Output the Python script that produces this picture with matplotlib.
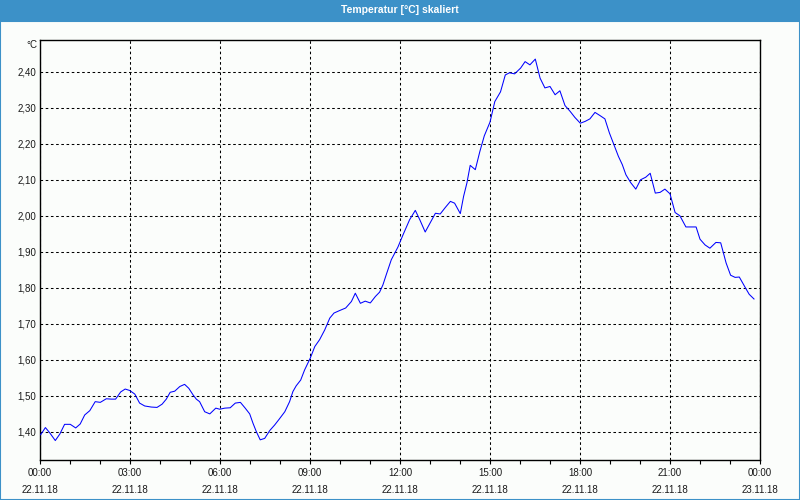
import numpy as np
import matplotlib
matplotlib.use("Agg")
import matplotlib.pyplot as plt
from matplotlib.patches import Rectangle
from matplotlib.ticker import MultipleLocator, FixedLocator

# Messwerte (Stunden ab 22.11.18 00:00, Temperatur in °C)
hours = [0.02, 0.18, 0.32, 0.51, 0.66, 0.82, 1.01, 1.19, 1.34, 1.49, 1.66, 1.84,
         2.01, 2.21, 2.38, 2.52, 2.69, 2.84, 2.99, 3.16, 3.32, 3.49, 3.71, 3.90,
         4.07, 4.21, 4.34, 4.49, 4.66, 4.82, 4.96, 5.10, 5.21, 5.32, 5.49, 5.66,
         5.86, 5.99, 6.16, 6.34, 6.51, 6.68, 6.84, 6.99, 7.10, 7.21, 7.34, 7.49,
         7.66, 7.82, 7.97, 8.16, 8.32, 8.43, 8.54, 8.69, 8.82, 9.01, 9.16, 9.32,
         9.49, 9.66, 9.80, 9.99, 10.19, 10.38, 10.51, 10.68, 10.84, 11.01, 11.18,
         11.32, 11.43, 11.54, 11.71, 11.93, 12.10, 12.32, 12.51, 12.66, 12.84,
         13.01, 13.18, 13.34, 13.51, 13.68, 13.82, 14.01, 14.12, 14.23, 14.34,
         14.51, 14.66, 14.81, 15.00, 15.16, 15.35, 15.51, 15.65, 15.82, 16.02,
         16.17, 16.33, 16.51, 16.67, 16.83, 17.00, 17.17, 17.33, 17.50, 17.67,
         17.83, 18.01, 18.17, 18.33, 18.50, 18.67, 18.83, 18.98, 19.11, 19.28,
         19.41, 19.53, 19.69, 19.86, 20.02, 20.19, 20.34, 20.51, 20.67, 20.83,
         21.00, 21.17, 21.33, 21.53, 21.70, 21.87, 22.00, 22.17, 22.33, 22.53,
         22.69, 22.87, 23.02, 23.17, 23.31, 23.50, 23.64, 23.80]
temps = [1.392, 1.412, 1.398, 1.376, 1.394, 1.421, 1.421, 1.411, 1.422, 1.447, 1.459, 1.484,
         1.482, 1.492, 1.491, 1.491, 1.511, 1.519, 1.515, 1.505, 1.480, 1.472, 1.469, 1.468,
         1.477, 1.491, 1.510, 1.513, 1.526, 1.532, 1.521, 1.503, 1.491, 1.484, 1.456, 1.450,
         1.466, 1.463, 1.466, 1.467, 1.480, 1.482, 1.466, 1.450, 1.424, 1.401, 1.378, 1.382,
         1.404, 1.419, 1.435, 1.456, 1.484, 1.512, 1.528, 1.544, 1.572, 1.605, 1.637, 1.656,
         1.683, 1.716, 1.730, 1.737, 1.744, 1.762, 1.785, 1.757, 1.763, 1.758, 1.776,
         1.788, 1.808, 1.836, 1.878, 1.913, 1.947, 1.989, 2.015, 1.989, 1.955,
         1.981, 2.007, 2.005, 2.023, 2.040, 2.035, 2.006, 2.054, 2.091, 2.140,
         2.128, 2.178, 2.222, 2.260, 2.317, 2.344, 2.391, 2.397, 2.394, 2.410,
         2.428, 2.419, 2.435, 2.382, 2.355, 2.359, 2.336, 2.347, 2.306, 2.290,
         2.273, 2.257, 2.262, 2.269, 2.287, 2.278, 2.269, 2.230, 2.202, 2.165,
         2.142, 2.114, 2.092, 2.074, 2.100, 2.107, 2.118, 2.063, 2.065, 2.074,
         2.061, 2.009, 2.000, 1.969, 1.969, 1.969, 1.935, 1.919, 1.910, 1.926,
         1.925, 1.869, 1.835, 1.829, 1.830, 1.802, 1.782, 1.769]

tick_hours = [0, 3, 6, 9, 12, 15, 18, 21, 24]
tick_labels = ["00:00\n22.11.18", "03:00\n22.11.18", "06:00\n22.11.18",
               "09:00\n22.11.18", "12:00\n22.11.18", "15:00\n22.11.18",
               "18:00\n22.11.18", "21:00\n22.11.18", "00:00\n23.11.18"]
y_ticks = [1.40, 1.50, 1.60, 1.70, 1.80, 1.90, 2.00, 2.10, 2.20, 2.30, 2.40]

bg = "#fbfdfb"
frame_blue = "#3c91c8"

plt.rcParams['font.family'] = ['Liberation Sans', 'DejaVu Sans']

fig = plt.figure(figsize=(8, 5), dpi=100, facecolor=bg)

# Titelleiste und Fensterrahmen
fig.patches.append(Rectangle((0, 1 - 21 / 500), 1, 21 / 500, transform=fig.transFigure,
                             facecolor=frame_blue, edgecolor="none", zorder=0))
fig.patches.append(Rectangle((0, 0), 1, 1 - 21 / 500, transform=fig.transFigure,
                             facecolor="none", edgecolor=frame_blue, linewidth=1.5, zorder=0))
fig.text(0.5, 1 - 10 / 500, "Temperatur [°C] skaliert", color="white", fontsize=7.5,
         fontweight="bold", ha="center", va="center")

ax = fig.add_axes([40 / 800, 40 / 500, 720 / 800, 420 / 500])
ax.set_facecolor(bg)
ax.plot(hours, temps, color="#0000ff", linewidth=0.75, zorder=3)

ax.set_xlim(0, 24)
ax.set_ylim(1.322, 2.488)

ax.xaxis.set_major_locator(FixedLocator(tick_hours))
ax.xaxis.set_minor_locator(MultipleLocator(1))
ax.set_xticks(tick_hours)
ax.set_xticklabels(tick_labels, fontsize=7, linespacing=1.8, color="#1a1a1a")
ax.set_yticks(y_ticks)
ax.set_yticklabels([f"{v:.2f}".replace(".", ",") for v in y_ticks], fontsize=7,
                   color="#1a1a1a")

ax.tick_params(axis="x", which="both", direction="out", length=3, width=0.8, pad=3)
ax.tick_params(axis="y", length=0, pad=3)

ax.grid(True, which="major", color="black", linestyle=(0, (2.5, 2.5)), linewidth=0.75)

for s in ax.spines.values():
    s.set_color("black")
    s.set_linewidth(1.0)

fig.text(37 / 800, 1 - 45 / 500, "°C", fontsize=7, ha="right", va="center", color="#1a1a1a")

fig.savefig("out.png", dpi=100, facecolor=bg)
